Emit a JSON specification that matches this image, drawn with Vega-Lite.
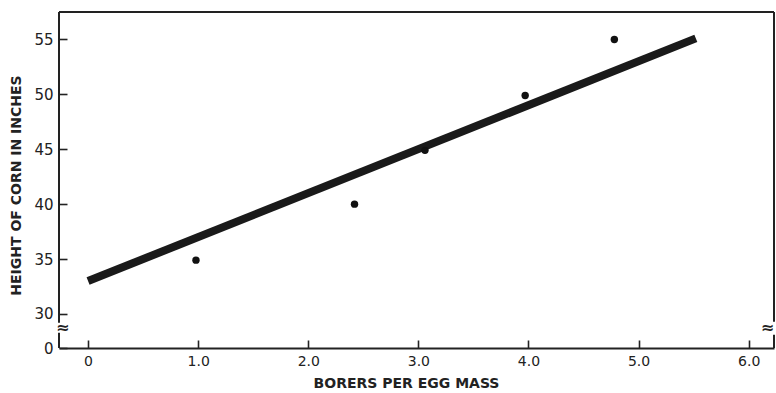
{
  "$schema": "https://vega.github.io/schema/vega-lite/v6.json",
  "width": 715,
  "height": 336,
  "autosize": {"type": "none"},
  "padding": {"left": 59, "top": 12, "right": 2, "bottom": 45},
  "background": "white",
  "config": {
    "view": {"stroke": null},
    "font": "DejaVu Sans",
    "axis": {
      "domainColor": "#222",
      "domainWidth": 2,
      "tickColor": "#222",
      "tickWidth": 1.6,
      "tickSize": -8,
      "grid": false,
      "labelColor": "#222",
      "labelFont": "DejaVu Sans",
      "titleColor": "#222",
      "titleFont": "DejaVu Sans",
      "titleFontWeight": "bold",
      "titleFontSize": 14
    }
  },
  "datasets": {
    "points": [
      {"borers": 0.98, "height": 34.9},
      {"borers": 2.42, "height": 40.0},
      {"borers": 3.06, "height": 44.9},
      {"borers": 3.97, "height": 49.9},
      {"borers": 4.78, "height": 55.0}
    ],
    "fit": [
      {"borers": 0.0, "height": 33.0},
      {"borers": 5.52, "height": 55.1}
    ],
    "frame": [
      {"x1": -0.264, "x2": 6.23, "y1": 57.5, "y2": 57.5},
      {"x1": -0.264, "x2": -0.264, "y1": 29.2, "y2": 57.5},
      {"x1": -0.264, "x2": -0.264, "y1": 26.9, "y2": 28.3},
      {"x1": 6.23, "x2": 6.23, "y1": 29.3, "y2": 57.5},
      {"x1": 6.23, "x2": 6.23, "y1": 26.9, "y2": 28.1}
    ],
    "breaks": [
      {"x": -0.23, "y": 28.75, "t": "≈"},
      {"x": 6.17, "y": 28.7, "t": "≈"}
    ]
  },
  "layer": [
    {
      "data": {"name": "frame"},
      "mark": {"type": "rule", "color": "#222", "strokeWidth": 2},
      "encoding": {
        "x": {"field": "x1", "type": "quantitative", "scale": {"domain": [-0.264, 6.23], "nice": false, "zero": false},
          "axis": {
            "values": [0, 1, 2, 3, 4, 5, 6],
            "labelExpr": "datum.value == 0 ? '0' : format(datum.value, '.1f')",
            "labelFontSize": 14,
            "labelPadding": 14,
            "title": "BORERS PER EGG MASS",
            "titlePadding": 8,
            "titleX": 347
          }},
        "x2": {"field": "x2"},
        "y": {"field": "y1", "type": "quantitative", "scale": {"domain": [26.9, 57.5], "nice": false, "zero": false},
          "axis": {
            "domain": false,
            "values": [26.9, 30, 35, 40, 45, 50, 55],
            "labelExpr": "datum.value < 29 ? '0' : datum.label",
            "labelFontSize": 15,
            "labelPadding": 14,
            "title": "HEIGHT OF CORN IN INCHES",
            "titlePadding": 10,
            "titleY": 173
          }},
        "y2": {"field": "y2"}
      }
    },
    {
      "data": {"name": "breaks"},
      "mark": {"type": "text", "color": "#222", "fontSize": 16, "fontWeight": "bold", "angle": 0},
      "encoding": {
        "x": {"field": "x", "type": "quantitative"},
        "y": {"field": "y", "type": "quantitative"},
        "text": {"field": "t"}
      }
    },
    {
      "data": {"name": "fit"},
      "mark": {"type": "line", "color": "#1a1a1a", "strokeWidth": 8, "strokeCap": "butt"},
      "encoding": {
        "x": {"field": "borers", "type": "quantitative"},
        "y": {"field": "height", "type": "quantitative"}
      }
    },
    {
      "data": {"name": "points"},
      "mark": {"type": "point", "filled": true, "color": "#111", "size": 55, "opacity": 1},
      "encoding": {
        "x": {"field": "borers", "type": "quantitative"},
        "y": {"field": "height", "type": "quantitative"}
      }
    }
  ]
}
